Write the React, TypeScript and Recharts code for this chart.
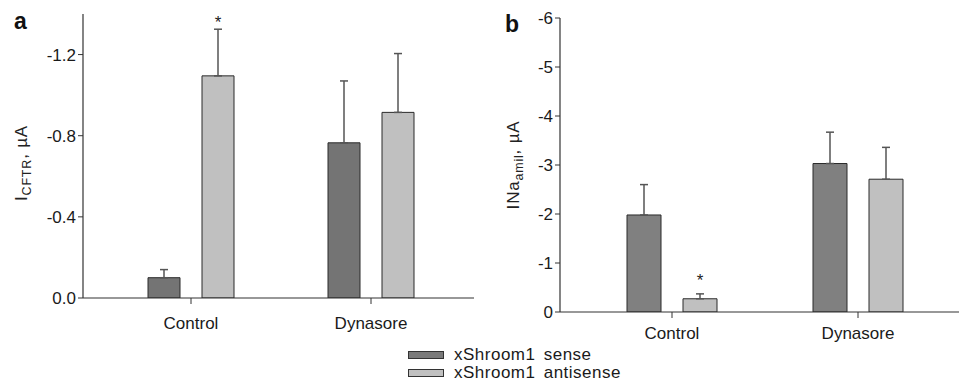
import React from 'react';
import { BarChart, Bar, XAxis, YAxis, ErrorBar, LabelList } from 'recharts';

const categories = ['Control', 'Dynasore'];
const seriesNames = ['xShroom1 sense', 'xShroom1 antisense'];

// Panel a: I_CFTR (µA)
const cftrSense = [-0.1, -0.765];
const cftrSenseErr = [0.04, 0.305];
const cftrAntisense = [-1.095, -0.915];
const cftrAntisenseErr = [0.23, 0.29];
const cftrSig = ['*', ''];
const cftrTicks = [0, -0.4, -0.8, -1.2];

// Panel b: INa_amil (µA)
const enacSense = [-1.98, -3.03];
const enacSenseErr = [0.62, 0.64];
const enacAntisense = [-0.27, -2.71];
const enacAntisenseErr = [0.1, 0.65];
const enacSig = ['*', ''];
const enacTicks = [0, -1, -2, -3, -4, -5, -6];

const FONT = '"Liberation Sans", Arial, Helvetica, sans-serif';
const ANTI_FILL = '#c0c0c0';

function buildRows(sense: number[], senseErr: number[], anti: number[], antiErr: number[]) {
  return categories.map((c, i) => ({
    name: c,
    sense: sense[i],
    antisense: anti[i],
    senseErr: [senseErr[i], 0],
    antisenseErr: [antiErr[i], 0],
  }));
}

const makeStar = (vals: number[], errs: number[], sig: string[], gap: number) => (props: any) => {
  const idx = props.index;
  if (!sig[idx]) return null;
  const x = Number(props.x);
  const y = Number(props.y);
  const w = Number(props.width);
  const h = Number(props.height);
  const ppu = Math.abs(h) / Math.abs(vals[idx]);
  const top = Math.min(y, y + h) - errs[idx] * ppu;
  return (
    <text x={x + w / 2} y={top - gap} textAnchor="middle" fontSize={17} fill="#222" fontFamily={FONT}>
      {sig[idx]}
    </text>
  );
};

type PanelProps = {
  letter: string;
  letterX: number;
  letterY: number;
  labelMain: string;
  labelSub: string;
  labelX: number;
  labelY: number;
  sense: number[];
  senseErr: number[];
  anti: number[];
  antiErr: number[];
  sig: string[];
  ticks: number[];
  domain: [number, number];
  decimals: number;
  width: number;
  height: number;
  margin: { top: number; right: number; bottom: number; left: number };
  yWidth: number;
  pad: { left: number; right: number };
  barSize: number;
  barGap: number;
  senseFill: string;
  tickMargin: number;
  starGap: number;
};

function Panel(p: PanelProps) {
  const rows = buildRows(p.sense, p.senseErr, p.anti, p.antiErr);
  const yLabel = () => (
    <g>
      <text x={p.letterX} y={p.letterY} fontSize={23} fontWeight="bold" fill="#111" fontFamily={FONT}>
        {p.letter}
      </text>
      <text
        x={p.labelX}
        y={p.labelY}
        textAnchor="middle"
        fontSize={17}
        fill="#222"
        fontFamily={FONT}
        transform={`rotate(-90 ${p.labelX} ${p.labelY})`}
        letterSpacing={0.8}
      >
        {p.labelMain}
        <tspan fontSize={12.5} dy={4}>{p.labelSub}</tspan>
        <tspan dy={-4}>, µA</tspan>
      </text>
    </g>
  );
  return (
    <BarChart
      width={p.width}
      height={p.height}
      data={rows}
      margin={p.margin}
      barSize={p.barSize}
      barGap={p.barGap}
    >
      <XAxis
        dataKey="name"
        padding={p.pad}
        height={30}
        stroke="#333"
        tickSize={6}
        tickMargin={p.tickMargin}
        tick={{ fill: '#1a1a1a', fontSize: 17, fontFamily: FONT }}
        axisLine={{ stroke: '#333', strokeWidth: 1.2 }}
        tickLine={{ stroke: '#333' }}
      />
      <YAxis
        type="number"
        reversed
        domain={p.domain}
        ticks={p.ticks}
        allowDataOverflow
        width={p.yWidth}
        stroke="#333"
        tickSize={5}
        tick={{ fill: '#1a1a1a', fontSize: 17, fontFamily: FONT }}
        tickFormatter={(v: number) => (v === 0 ? (0).toFixed(p.decimals) : v.toFixed(p.decimals))}
        axisLine={{ stroke: '#333', strokeWidth: 1.2 }}
        tickLine={{ stroke: '#333' }}
        label={{ content: yLabel }}
      />
      <Bar dataKey="sense" name={seriesNames[0]} fill={p.senseFill} stroke="#2a2a2a" strokeWidth={1} isAnimationActive={false}>
        <ErrorBar dataKey="senseErr" width={4} stroke="#555" strokeWidth={1.5} direction="y" />
      </Bar>
      <Bar dataKey="antisense" name={seriesNames[1]} fill={ANTI_FILL} stroke="#2a2a2a" strokeWidth={1} isAnimationActive={false}>
        <ErrorBar dataKey="antisenseErr" width={4} stroke="#555" strokeWidth={1.5} direction="y" />
        <LabelList dataKey="antisense" content={makeStar(p.anti, p.antiErr, p.sig, p.starGap)} />
      </Bar>
    </BarChart>
  );
}

function Swatch({ fill }: { fill: string }) {
  return (
    <div
      style={{
        width: 36,
        height: 8,
        boxSizing: 'border-box',
        border: '1px solid #333',
        background: fill,
        marginRight: 10,
      }}
    />
  );
}

export default function App() {
  const legendFills = ['#7a7a7a', ANTI_FILL];
  return (
    <div style={{ position: 'absolute', left: 0, top: 0, width: 959, height: 381, background: '#fff', overflow: 'hidden' }}>
      <div style={{ position: 'absolute', left: 0, top: 0 }}>
        <Panel
          letter="a"
          letterX={14}
          letterY={29}
          labelMain="I"
          labelSub="CFTR"
          labelX={27}
          labelY={163}
          sense={cftrSense}
          senseErr={cftrSenseErr}
          anti={cftrAntisense}
          antiErr={cftrAntisenseErr}
          sig={cftrSig}
          ticks={cftrTicks}
          domain={[-1.4, 0]}
          decimals={1}
          width={480}
          height={340}
          margin={{ top: 14, right: 6, bottom: 12, left: 0 }}
          yWidth={83}
          pad={{ left: 18, right: 13 }}
          barSize={32}
          barGap={22}
          senseFill="#747474"
          tickMargin={13}
          starGap={1}
        />
      </div>
      <div style={{ position: 'absolute', left: 480, top: 0 }}>
        <Panel
          letter="b"
          letterX={25}
          letterY={32}
          labelMain="INa"
          labelSub="amil"
          labelX={39}
          labelY={165}
          sense={enacSense}
          senseErr={enacSenseErr}
          anti={enacAntisense}
          antiErr={enacAntisenseErr}
          sig={enacSig}
          ticks={enacTicks}
          domain={[-6, 0]}
          decimals={0}
          width={479}
          height={345}
          margin={{ top: 18, right: 0, bottom: 3, left: 0 }}
          yWidth={80}
          pad={{ left: 19, right: 8 }}
          barSize={34}
          barGap={22}
          senseFill="#808080"
          tickMargin={9}
          starGap={8}
        />
      </div>
      <div style={{ position: 'absolute', left: 408, top: 346, fontFamily: FONT, fontSize: 17, color: '#1a1a1a' }}>
        {seriesNames.map((n, i) => (
          <div key={n} style={{ display: 'flex', alignItems: 'center', height: 18, lineHeight: '18px', whiteSpace: 'nowrap' }}>
            <Swatch fill={legendFills[i]} />
            <span style={{ letterSpacing: 0.5, wordSpacing: 3 }}>{n}</span>
          </div>
        ))}
      </div>
    </div>
  );
}
